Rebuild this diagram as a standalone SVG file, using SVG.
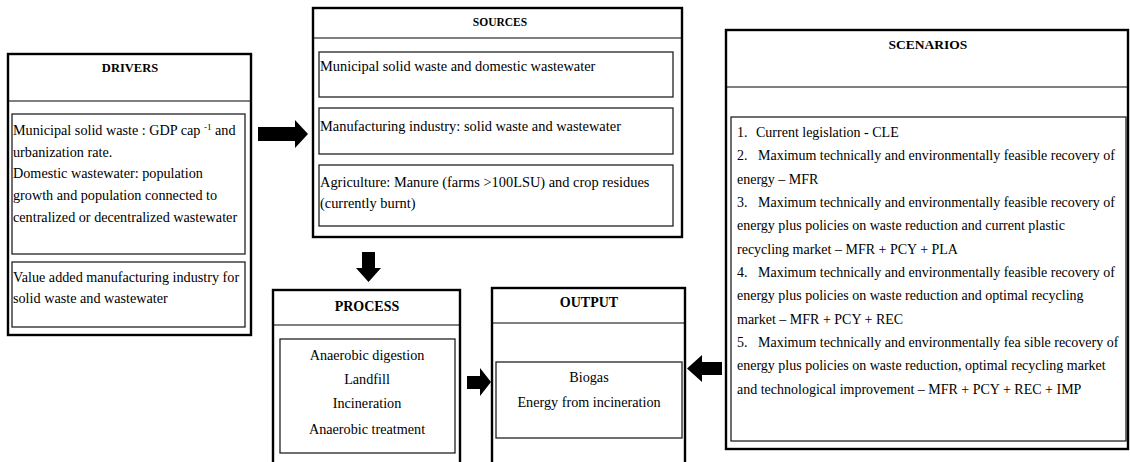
<svg xmlns="http://www.w3.org/2000/svg" width="1130" height="462" viewBox="0 0 1130 462">
<style>
.outer{fill:#fff;stroke:#000;stroke-width:2.4}
.sep{stroke:#000;stroke-width:1.2}
.inner{fill:none;stroke:#222;stroke-width:1.3}
.t{font-family:"Liberation Serif","Times New Roman",serif;font-size:14.2px;fill:#000}
.s{font-size:14.4px}
.sc{font-size:14px}
.h{font-family:"Liberation Serif","Times New Roman",serif;font-weight:bold;fill:#000;text-anchor:middle}
.c{text-anchor:middle}
.arrow{fill:#000}
</style>
<rect width="1130" height="462" fill="#fff"/>

<g id="drivers">
<rect class="outer" x="8" y="54" width="243" height="281"/>
<line class="sep" x1="8" y1="101" x2="251" y2="101"/>
<text class="h" x="130" y="72" font-size="12.5">DRIVERS</text>
<rect class="inner" x="12" y="114" width="233" height="140"/>
<text class="t" x="13" y="135">Municipal solid waste : GDP cap <tspan font-size="9" dy="-5">-1</tspan><tspan dy="5"> and</tspan></text>
<text class="t" x="13" y="157">urbanization rate.</text>
<text class="t" x="13" y="178">Domestic wastewater: population</text>
<text class="t" x="13" y="200">growth and population connected to</text>
<text class="t" x="13" y="222">centralized or decentralized wastewater</text>
<rect class="inner" x="12" y="262" width="233" height="65"/>
<text class="t" x="13" y="282">Value added manufacturing industry for</text>
<text class="t" x="13" y="303">solid waste and wastewater</text>
</g>

<g id="sources">
<rect class="outer" x="313" y="8" width="369" height="229"/>
<line class="sep" x1="313" y1="38" x2="682" y2="38"/>
<text class="h" x="500" y="26" font-size="11.5">SOURCES</text>
<rect class="inner" x="319" y="52" width="354" height="45"/>
<text class="t s" x="320" y="71">Municipal solid waste and domestic wastewater</text>
<rect class="inner" x="319" y="108" width="354" height="46"/>
<text class="t s" x="320" y="131">Manufacturing industry: solid waste and wastewater</text>
<rect class="inner" x="319" y="165" width="354" height="61"/>
<text class="t s" x="320" y="187">Agriculture: Manure (farms &gt;100LSU) and crop residues</text>
<text class="t s" x="320" y="208">(currently burnt)</text>
</g>

<g id="process">
<rect class="outer" x="273" y="290" width="187" height="180"/>
<line class="sep" x1="273" y1="325" x2="460" y2="325"/>
<text class="h" x="367" y="311" font-size="14">PROCESS</text>
<rect class="inner" x="280" y="339" width="175" height="114"/>
<text class="t c" x="367" y="360">Anaerobic digestion</text>
<text class="t c" x="367" y="384">Landfill</text>
<text class="t c" x="367" y="408">Incineration</text>
<text class="t c" x="367" y="434">Anaerobic treatment</text>
</g>

<g id="output">
<rect class="outer" x="492" y="288" width="193" height="182"/>
<line class="sep" x1="492" y1="323" x2="685" y2="323"/>
<text class="h" x="589" y="307" font-size="14">OUTPUT</text>
<rect class="inner" x="496" y="362" width="186" height="76"/>
<text class="t c" x="589" y="382">Biogas</text>
<text class="t c" x="589" y="407">Energy from incineration</text>
</g>

<g id="scenarios">
<rect class="outer" x="726" y="30" width="402" height="419"/>
<line class="sep" x1="726" y1="87" x2="1128" y2="87"/>
<text class="h" x="928" y="49" font-size="13.5">SCENARIOS</text>
<rect class="inner" x="731" y="117" width="395" height="324"/>
<text class="t sc" x="737" y="137">1.<tspan x="756">Current legislation  - CLE</tspan></text>
<text class="t sc" x="737" y="160">2.<tspan x="758">Maximum technically and environmentally feasible recovery of</tspan></text>
<text class="t sc" x="737" y="184">energy – MFR</text>
<text class="t sc" x="737" y="207">3.<tspan x="758">Maximum technically and environmentally feasible recovery of</tspan></text>
<text class="t sc" x="737" y="230">energy plus policies on waste reduction and current plastic</text>
<text class="t sc" x="737" y="254">recycling market – MFR + PCY + PLA</text>
<text class="t sc" x="737" y="277">4.<tspan x="758">Maximum technically and environmentally feasible recovery of</tspan></text>
<text class="t sc" x="737" y="300">energy plus policies on waste reduction and optimal recycling</text>
<text class="t sc" x="737" y="324">market – MFR + PCY + REC</text>
<text class="t sc" x="737" y="347">5.<tspan x="758">Maximum technically and environmentally fea sible recovery of</tspan></text>
<text class="t sc" x="737" y="370">energy plus policies on waste reduction, optimal recycling market</text>
<text class="t sc" x="737" y="394">and technological improvement – MFR + PCY + REC + IMP</text>
</g>

<g id="connectors">
<polygon class="arrow" points="258,127 295,127 295,120 308,134 295,148 295,141 258,141"/>
<polygon class="arrow" points="362,252 375,252 375,268 381,268 368.5,282 356,268 362,268"/>
<polygon class="arrow" points="467,376 480,376 480,368 491,382 480,396 480,389 467,389"/>
<polygon class="arrow" points="722,362 702,362 702,355 687,368.5 702,382 702,375 722,375"/>
</g>
</svg>
